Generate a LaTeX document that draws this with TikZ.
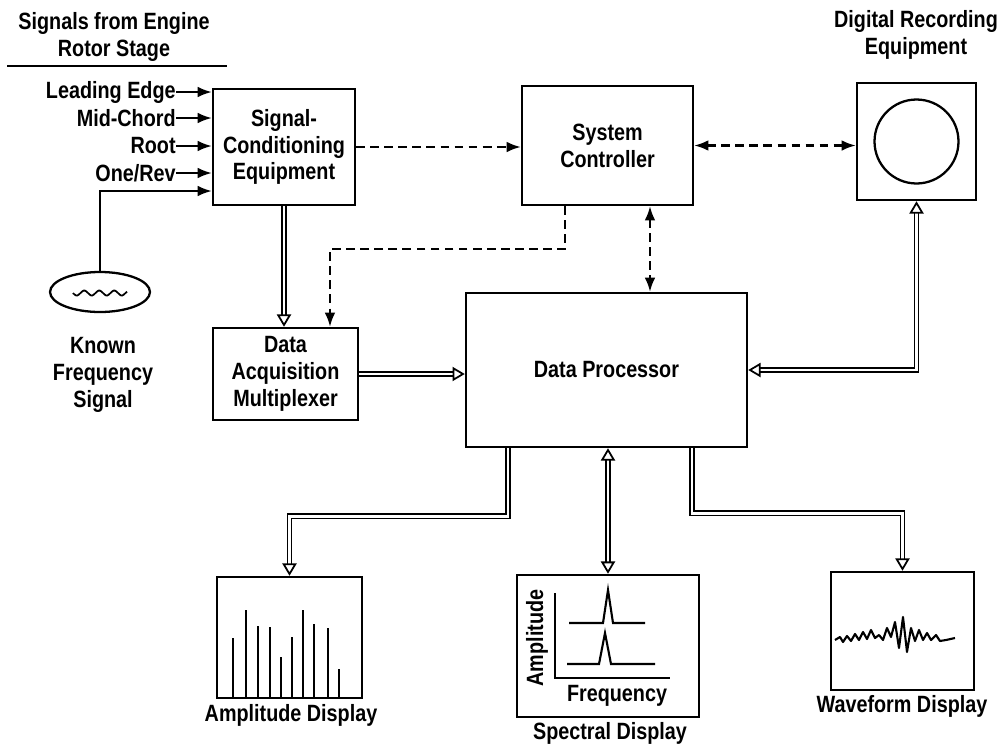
\documentclass[tikz,border=0pt]{standalone}
\usepackage{fontspec}
\newfontfamily\lettering{Liberation Sans}[FakeStretch=0.84]
\usetikzlibrary{arrows.meta,shapes.geometric}
\newcommand\letterfont{\lettering\bfseries\fontsize{13.4}{15.3}\selectfont}
\begin{document}
\begin{tikzpicture}[x=0.02cm, y=-0.02cm,
    blk/.style={draw, line width=1.4pt, inner sep=0pt, align=center, font=\letterfont},
    txt/.style={inner sep=0pt, align=center, font=\letterfont},
    sig/.style={line width=1.1pt},
    ctl/.style={line width=1.2pt, dash pattern=on 5pt off 3pt},
    dat/.style={double, double distance=1.6pt, line width=0.9pt},
    fh/.tip={Latex[length=8pt,width=6pt]},
    hd/.tip={Triangle[open, fill=white, length=7pt, width=8pt, line width=1pt]}]
  \useasboundingbox (0,0) rectangle (1001,744);

  % title
  \node[txt] (ttl) at (114,37) {Signals from Engine\\Rotor Stage};
  \draw[sig] (7,66) -- (227,66);

  % main blocks
  \node[blk, minimum width=2.84cm, minimum height=2.32cm] (sce) at (284,147) {Signal-\\Conditioning\\Equipment};
  \node[blk, minimum width=3.42cm, minimum height=2.38cm] (sc) at (607.5,145.5) {System\\Controller};
  \node[blk, minimum width=2.38cm, minimum height=2.34cm] (dre) at (916.5,141.5) {};
  \draw[line width=1.3pt] (dre.center) circle (0.84cm);
  \node[txt] (drel) at (916,35) {Digital Recording\\Equipment};
  \node[blk, minimum width=2.9cm, minimum height=1.84cm] (daq) at (285.5,374) {Data\\Acquisition\\Multiplexer};
  \node[blk, minimum width=5.62cm, minimum height=3.08cm] (dp) at (606.5,370) {Data Processor};

  % known frequency
  \node[draw, ellipse, line width=1.3pt, minimum width=2cm, minimum height=0.8cm] (kfs) at (100,292) {};
  \draw[line width=1pt] plot[smooth, domain=73:127, samples=37] (\x,{293+2.5*sin(24*(\x-73))});
  \node[txt] (kfl) at (103,375) {Known\\Frequency\\Signal};
  \coordinate (kfc) at (100,191);
  \draw[sig, -fh] (kfs.north) -- (kfc) -- (kfc -| sce.west);

  % rotor stage inputs
  \foreach \nm/\lb/\yy in {le/{Leading Edge}/92, mc/{Mid-Chord}/118, rt/{Root}/146, orv/{One/Rev}/173}{
    \node[txt, anchor=east] (\nm) at (176,\yy) {\lb};
    \draw[sig, -fh] (\nm.east) -- (\nm.east -| sce.west);
  }

  % control lines
  \draw[ctl, -fh] (sce.east) -- (sce.east -| sc.west);
  \draw[ctl, fh-fh] (sc.east) -- (sc.east -| dre.west);
  \draw[ctl, -fh] ([xshift=-0.85cm]sc.south) -- ++(0,43) -| ([xshift=0.89cm]daq.north);
  \draw[ctl, fh-fh] ([xshift=0.85cm]sc.south) -- ([xshift=0.85cm]sc.south |- dp.north);

  % data lines
  \draw[dat, -hd] (sce.south) -- (sce.south |- daq.north);
  \draw[dat, -hd] (daq.east) -- (daq.east -| dp.west);
  \draw[dat, hd-hd] (dre.south) |- (dp.east);

  % displays
  \node[blk, minimum width=2.9cm, minimum height=2.42cm] (amp) at (289.5,637.5) {};
  \node[txt] (ampl) at (291,715) {Amplitude Display};
  \node[blk, minimum width=3.64cm, minimum height=2.84cm] (spc) at (608,646) {};
  \node[txt] (spcl) at (610,733) {Spectral Display};
  \node[blk, minimum width=2.86cm, minimum height=2.36cm] (wav) at (902.5,631) {};
  \node[txt] (wavl) at (902,706) {Waveform Display};

  \draw[dat, -hd] ([xshift=-1.97cm]dp.south) -- ++(0,68) -| (amp.north);
  \draw[dat, hd-hd] (dp.south -| spc.north) -- (spc.north);
  \draw[dat, -hd] ([xshift=1.71cm]dp.south) -- ++(0,65) -| (wav.north);

  % amplitude bars
  \foreach \bx/\by in {233/638, 246/610, 258/626, 270/627, 281/657, 292/637, 303/610, 314/624, 328/628, 339/669}
    \draw[line width=1.4pt] (\bx,\by) -- (\bx,\by |- amp.south);

  % spectrum
  \draw[line width=1.4pt] (555,593) -- (555,678) -- (670,678);
  \draw[line width=1.2pt] (569,623) -- (603,623) -- (608,590) -- (613,623) -- (645,623);
  \draw[line width=1.2pt] (567,664) -- (599,664) -- (605,633) -- (611,664) -- (655,664);
  \node[txt, rotate=90] (ampax) at (537,638) {Amplitude};
  \node[txt] (frqax) at (617,696) {Frequency};

  % waveform
  \draw[line width=1.2pt, line join=round] plot coordinates {(835,640) (840,637) (843,642) (847,636) (851,641) (855,634) (859,640) (863,632) (867,639) (871,630) (875,638) (879,635) (883,640) (887,628) (891,637) (895,622) (899,648) (903,617) (907,652) (911,628) (915,641) (919,630) (923,640) (927,633) (931,640) (936,635) (940,641) (946,640) (955,638)};
\end{tikzpicture}
\end{document}
